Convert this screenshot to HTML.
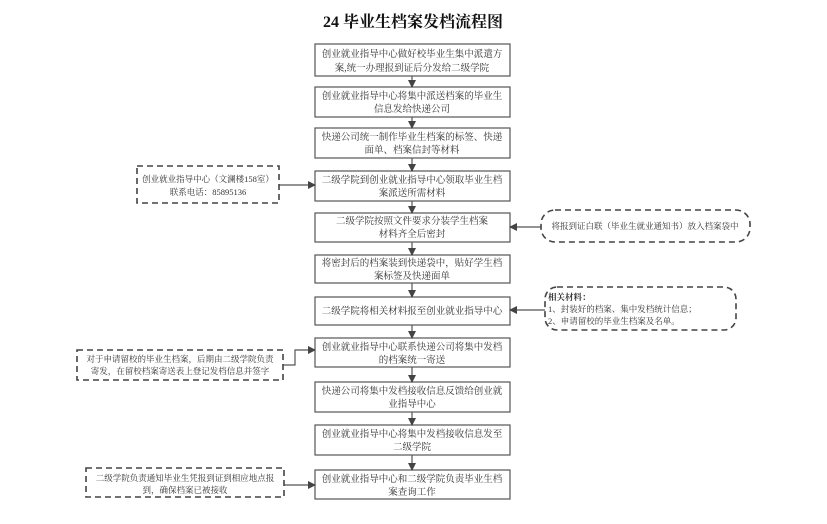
<!DOCTYPE html>
<html><head><meta charset="utf-8"><style>
html,body{margin:0;padding:0;background:#fff}
svg text{font-family:"Liberation Serif","Noto Serif CJK SC","Noto Sans CJK SC",serif;fill:#333}
</style></head><body>
<svg width="827" height="519" viewBox="0 0 827 519" xmlns="http://www.w3.org/2000/svg">
<defs><marker id="a" markerWidth="8" markerHeight="8" refX="7" refY="4" orient="auto" markerUnits="userSpaceOnUse"><path d="M0,0 L8,4 L0,8 Z" fill="#444"/></marker></defs>
<text x="413" y="27" font-size="16" font-weight="bold" text-anchor="middle" style="fill:#111">24 毕业生档案发档流程图</text>
<g fill="#fff" stroke="#555" stroke-width="1.2">
<rect x="315" y="44" width="195" height="32"/>
<rect x="315" y="87" width="195" height="30"/>
<rect x="315" y="128" width="195" height="30"/>
<rect x="315" y="171" width="195" height="30"/>
<rect x="315" y="213" width="195" height="29"/>
<rect x="315" y="255" width="195" height="28"/>
<rect x="315" y="297" width="195" height="28"/>
<rect x="315" y="338" width="195" height="29"/>
<rect x="315" y="382" width="195" height="30"/>
<rect x="315" y="425" width="195" height="30"/>
<rect x="315" y="470" width="195" height="29"/>
</g>
<g stroke="#555" stroke-width="1.2" marker-end="url(#a)">
<line x1="412" y1="76" x2="412" y2="87"/>
<line x1="412" y1="117" x2="412" y2="128"/>
<line x1="412" y1="158" x2="412" y2="171"/>
<line x1="412" y1="201" x2="412" y2="213"/>
<line x1="412" y1="242" x2="412" y2="255"/>
<line x1="412" y1="283" x2="412" y2="297"/>
<line x1="412" y1="325" x2="412" y2="338"/>
<line x1="412" y1="367" x2="412" y2="382"/>
<line x1="412" y1="412" x2="412" y2="425"/>
<line x1="412" y1="455" x2="412" y2="470"/>
<line x1="279" y1="185" x2="315" y2="185"/>
<line x1="541" y1="227" x2="510" y2="227"/>
<line x1="545" y1="310" x2="510" y2="310"/>
<polyline fill="none" points="283,365 295,365 295,350 315,350"/>
<line x1="284" y1="485" x2="315" y2="485"/>
</g>
<g fill="none" stroke="#444" stroke-width="1.6" stroke-dasharray="6,4">
<rect x="137" y="166" width="142" height="37"/>
<rect x="541" y="210" width="209" height="32" rx="14"/>
<rect x="545" y="287" width="191" height="43" rx="12"/>
<rect x="77" y="350" width="206" height="30"/>
<rect x="86" y="468" width="198" height="29"/>
</g>
<g font-size="9.5" text-anchor="middle">
<text x="412" y="57">创业就业指导中心做好校毕业生集中派遣方</text>
<text x="412" y="71">案,统一办理报到证后分发给二级学院</text>
<text x="412" y="99">创业就业指导中心将集中派送档案的毕业生</text>
<text x="412" y="112">信息发给快递公司</text>
<text x="412" y="140">快递公司统一制作毕业生档案的标签、快递</text>
<text x="412" y="153">面单、档案信封等材料</text>
<text x="412" y="183">二级学院到创业就业指导中心领取毕业生档</text>
<text x="412" y="196">案派送所需材料</text>
<text x="412" y="224">二级学院按照文件要求分装学生档案</text>
<text x="412" y="237">材料齐全后密封</text>
<text x="412" y="266">将密封后的档案装到快递袋中，贴好学生档</text>
<text x="412" y="279">案标签及快递面单</text>
<text x="412" y="314">二级学院将相关材料报至创业就业指导中心</text>
<text x="412" y="350">创业就业指导中心联系快递公司将集中发档</text>
<text x="412" y="363">的档案统一寄送</text>
<text x="412" y="394">快递公司将集中发档接收信息反馈给创业就</text>
<text x="412" y="407">业指导中心</text>
<text x="412" y="437">创业就业指导中心将集中发档接收信息发至</text>
<text x="412" y="450">二级学院</text>
<text x="412" y="482">创业就业指导中心和二级学院负责毕业生档</text>
<text x="412" y="495">案查询工作</text>
</g>
<g font-size="8.5" text-anchor="middle">
<text x="208" y="182">创业就业指导中心（文澜楼158室）</text>
<text x="208" y="195">联系电话：85895136</text>
<text x="645" y="229">将报到证白联（毕业生就业通知书）放入档案袋中</text>
<text x="180" y="362">对于申请留校的毕业生档案，后期由二级学院负责</text>
<text x="180" y="374">寄发，在留校档案寄送表上登记发档信息并签字</text>
<text x="185" y="481">二级学院负责通知毕业生凭报到证到相应地点报</text>
<text x="185" y="493">到，确保档案已被接收</text>
</g>
<g font-size="8.5">
<text x="548" y="300" font-weight="bold">相关材料：</text>
<text x="548" y="312">1、封装好的档案、集中发档统计信息；</text>
<text x="548" y="324">2、申请留校的毕业生档案及名单。</text>
</g>
</svg>
</body></html>
